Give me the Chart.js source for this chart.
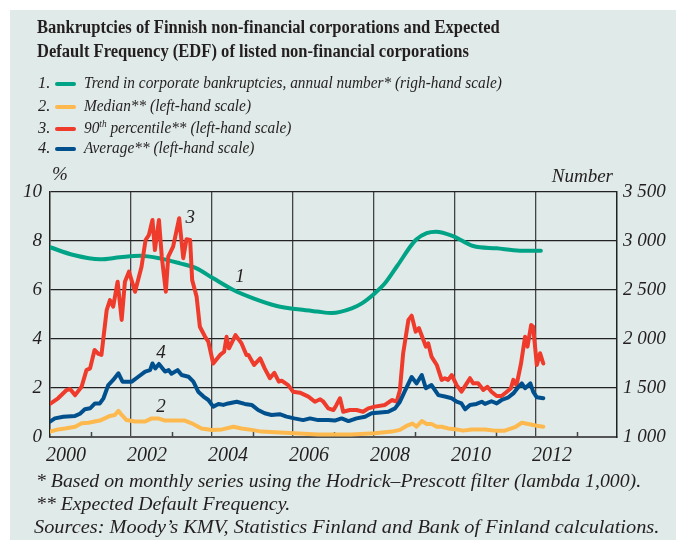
<!DOCTYPE html>
<html lang="en">
<head>
<meta charset="UTF-8">
<title>Bankruptcies and EDF</title>
<script src="https://cdn.jsdelivr.net/npm/chart.js@4.4.1/dist/chart.umd.min.js"></script>
<style>
    body { margin: 0; background: #fff; width: 676px; height: 540px; overflow: hidden; }
    #panel { position: absolute; left: 10px; top: 10px; width: 666px; height: 530px; background: #e0eae8; }
    #chart { position: absolute; left: 0; top: 0; }
    .txt { position: absolute; font-family: "Liberation Serif", serif; color: #231f20; white-space: nowrap; transform-origin: 0 50%; }
    #title { left: 37px; top: 15px; font-weight: bold; font-size: 18.5px; line-height: 24px; transform: scaleX(0.895); }
    .leg { left: 38px; font-style: italic; font-size: 16.5px; line-height: 20px; }
    .leg .sw { position: absolute; left: 17px; top: 9px; width: 21px; height: 4px; border-radius: 2px; }
    .leg .lab { position: absolute; left: 46px; top: 0; transform: scaleX(0.93); transform-origin: 0 50%; }
    .foot { left: 36px; font-style: italic; font-size: 18.5px; line-height: 22px; transform: scaleX(1.07); }
    sup { font-size: 10px; line-height: 0; }
</style>
</head>
<body>
<div id="panel"></div>
<canvas id="chart" width="676" height="540"></canvas>

<div id="title" class="txt">Bankruptcies of Finnish non-financial corporations and Expected<br>Default Frequency (EDF) of listed non-financial corporations</div>
<div class="txt leg" style="top:73px">1.<span class="sw" style="background:#00a385"></span><span class="lab">Trend in corporate bankruptcies, annual number* (righ-hand scale)</span></div>
<div class="txt leg" style="top:96px">2.<span class="sw" style="background:#fdb94e"></span><span class="lab">Median** (left-hand scale)</span></div>
<div class="txt leg" style="top:118px">3.<span class="sw" style="background:#ef3b2c"></span><span class="lab">90<sup>th</sup> percentile** (left-hand scale)</span></div>
<div class="txt leg" style="top:138px">4.<span class="sw" style="background:#00508e"></span><span class="lab">Average** (left-hand scale)</span></div>
<div class="txt foot" style="top:470px">* Based on monthly series using the Hodrick–Prescott filter (lambda 1,000).</div>
<div class="txt foot" style="top:493px">** Expected Default Frequency.</div>
<div class="txt foot" style="top:516px; left:34px; transform: scaleX(1.1)">Sources: Moody’s KMV, Statistics Finland and Bank of Finland calculations.</div>

<script>
    // trend in corporate bankruptcies (right-hand scale, number per year)
    const trendYears = [2000.00, 2000.58, 2001.23, 2001.73, 2002.22, 2002.72, 2003.21, 2003.62, 2004.03, 2004.53,
        2005.02, 2005.60, 2006.17, 2006.60, 2006.96, 2007.45, 2007.70, 2008.00, 2008.27, 2008.58,
        2009.03, 2009.30, 2009.53, 2009.95, 2010.45, 2011.03, 2011.60, 2012.12];
    const trendValues = [2936, 2857, 2813, 2834, 2850, 2823, 2772, 2721, 2619, 2500,
        2415, 2337, 2300, 2280, 2265, 2313, 2364, 2460, 2568, 2750,
        3010, 3080, 3095, 3051, 2949, 2925, 2901, 2901];

    // median EDF, %
    const medianYears = [2000.00, 2000.20, 2000.37, 2000.62, 2000.78, 2000.95, 2001.10, 2001.23, 2001.35, 2001.48,
        2001.60, 2001.69, 2001.77, 2001.89, 2002.10, 2002.35, 2002.51, 2002.67, 2002.84, 2003.03,
        2003.33, 2003.50, 2003.74, 2004.00, 2004.25, 2004.53, 2004.73, 2004.98, 2005.22, 2005.56,
        2006.03, 2006.62, 2007.44, 2008.02, 2008.44, 2008.64, 2008.80, 2008.95, 2009.05, 2009.18,
        2009.30, 2009.42, 2009.55, 2009.67, 2009.83, 2010.04, 2010.20, 2010.41, 2010.74, 2010.98,
        2011.23, 2011.48, 2011.65, 2011.81, 2012.02, 2012.18];
    const medianValues = [0.22, 0.31, 0.35, 0.42, 0.56, 0.58, 0.63, 0.67, 0.76, 0.86,
        0.90, 1.07, 0.90, 0.69, 0.63, 0.63, 0.76, 0.76, 0.67, 0.67,
        0.67, 0.56, 0.35, 0.29, 0.31, 0.42, 0.35, 0.29, 0.22, 0.19,
        0.15, 0.10, 0.10, 0.15, 0.22, 0.29, 0.45, 0.55, 0.42, 0.65,
        0.53, 0.53, 0.42, 0.42, 0.35, 0.31, 0.26, 0.31, 0.31, 0.26,
        0.26, 0.40, 0.58, 0.53, 0.46, 0.42];

    // 90th percentile EDF, %
    const p90Years = [2000.00, 2000.20, 2000.41, 2000.50, 2000.62, 2000.78, 2000.90, 2000.99, 2001.10, 2001.20,
        2001.27, 2001.40, 2001.48, 2001.56, 2001.67, 2001.77, 2001.85, 2001.95, 2002.10, 2002.26,
        2002.36, 2002.44, 2002.53, 2002.59, 2002.69, 2002.76, 2002.86, 2002.92, 2003.04, 2003.19,
        2003.29, 2003.37, 2003.46, 2003.51, 2003.62, 2003.70, 2003.83, 2003.91, 2004.03, 2004.20,
        2004.30, 2004.36, 2004.42, 2004.58, 2004.73, 2004.85, 2004.90, 2005.04, 2005.19, 2005.30,
        2005.43, 2005.54, 2005.65, 2005.72, 2005.88, 2006.00, 2006.17, 2006.38, 2006.54, 2006.67,
        2006.75, 2006.87, 2007.00, 2007.07, 2007.16, 2007.24, 2007.40, 2007.57, 2007.73, 2007.86,
        2008.02, 2008.27, 2008.44, 2008.56, 2008.64, 2008.72, 2008.85, 2008.93, 2009.03, 2009.11,
        2009.22, 2009.28, 2009.34, 2009.42, 2009.55, 2009.67, 2009.75, 2009.83, 2009.92, 2010.04,
        2010.16, 2010.29, 2010.37, 2010.45, 2010.57, 2010.70, 2010.80, 2010.90, 2011.03, 2011.15,
        2011.28, 2011.38, 2011.44, 2011.52, 2011.63, 2011.73, 2011.79, 2011.88, 2011.93, 2012.02,
        2012.10, 2012.18];
    const p90Values = [1.35, 1.58, 1.92, 1.95, 1.71, 2.05, 2.73, 2.80, 3.55, 3.39,
        3.35, 5.18, 5.59, 5.32, 6.34, 4.78, 6.34, 6.75, 5.93, 6.95,
        8.04, 8.24, 8.86, 7.63, 8.86, 7.36, 5.93, 7.36, 7.77, 8.93,
        7.30, 8.07, 8.04, 6.41, 5.73, 4.50, 4.09, 3.89, 3.00, 3.35,
        3.48, 4.09, 3.62, 4.16, 3.82, 3.35, 3.35, 2.94, 3.21, 2.80,
        2.40, 2.62, 2.26, 2.30, 2.12, 1.85, 1.81, 1.65, 1.44, 1.54,
        1.44, 1.17, 1.10, 1.30, 1.58, 1.03, 1.10, 1.10, 1.03, 1.17,
        1.24, 1.31, 1.51, 1.44, 1.92, 3.42, 4.78, 4.95, 4.30, 4.44,
        3.96, 3.69, 3.82, 3.28, 2.94, 2.33, 2.40, 2.33, 2.53, 2.12,
        1.85, 2.19, 2.40, 2.19, 2.19, 1.92, 2.05, 1.85, 1.67, 1.67,
        1.85, 1.99, 2.33, 2.12, 3.00, 4.09, 3.69, 4.57, 4.50, 2.94,
        3.42, 3.00];

    // average EDF, %
    const avgYears = [2000.00, 2000.12, 2000.33, 2000.62, 2000.74, 2000.86, 2000.99, 2001.11, 2001.23, 2001.32,
        2001.44, 2001.56, 2001.69, 2001.79, 2001.93, 2002.02, 2002.18, 2002.35, 2002.47, 2002.53,
        2002.60, 2002.69, 2002.84, 2002.93, 2003.00, 2003.15, 2003.25, 2003.42, 2003.54, 2003.66,
        2003.79, 2003.91, 2004.03, 2004.16, 2004.28, 2004.40, 2004.61, 2004.81, 2004.98, 2005.14,
        2005.30, 2005.47, 2005.67, 2005.84, 2006.03, 2006.25, 2006.42, 2006.62, 2006.87, 2007.03,
        2007.20, 2007.37, 2007.57, 2007.78, 2007.94, 2008.15, 2008.35, 2008.52, 2008.64, 2008.77,
        2008.93, 2009.05, 2009.18, 2009.28, 2009.42, 2009.59, 2009.75, 2009.92, 2010.04, 2010.16,
        2010.25, 2010.37, 2010.53, 2010.66, 2010.74, 2010.90, 2011.03, 2011.15, 2011.32, 2011.44,
        2011.57, 2011.65, 2011.73, 2011.86, 2011.93, 2012.02, 2012.18];
    const avgValues = [0.63, 0.76, 0.83, 0.86, 0.95, 1.13, 1.17, 1.37, 1.37, 1.58,
        2.12, 2.33, 2.60, 2.26, 2.26, 2.26, 2.46, 2.67, 2.73, 3.00,
        2.80, 2.98, 2.67, 2.73, 2.58, 2.73, 2.53, 2.46, 2.26, 1.85,
        1.65, 1.51, 1.24, 1.35, 1.31, 1.37, 1.44, 1.35, 1.31, 1.10,
        0.97, 0.90, 0.93, 0.83, 0.76, 0.69, 0.76, 0.69, 0.69, 0.67,
        0.76, 0.65, 0.76, 0.83, 0.97, 1.00, 1.03, 1.17, 1.44, 1.90,
        2.45, 2.19, 2.53, 1.99, 2.12, 1.71, 1.65, 1.58, 1.44, 1.37,
        1.13, 1.31, 1.35, 1.44, 1.35, 1.46, 1.37, 1.51, 1.62, 1.78,
        2.05, 2.19, 1.99, 2.19, 1.85, 1.62, 1.58];

    // numbers written next to the lines: [label, year, left-scale value]
    const lineTags = [['1', 2004.69, 6.53], ['2', 2002.74, 1.22], ['3', 2003.46, 8.94], ['4', 2002.74, 3.43]];

    const textColor = '#231f20';
    const serif = 'Liberation Serif';

    function pts(xs, ys) {
        return xs.map((x, i) => ({ x: x, y: ys[i] }));
    }

    const extras = {
        id: 'extras',
        beforeDatasetsDraw(chart) {
            // small tick marks for odd years, pointing up from the bottom axis
            const ctx = chart.ctx;
            const xs = chart.scales.x;
            const bottom = chart.chartArea.bottom;
            ctx.save();
            ctx.strokeStyle = '#444';
            ctx.lineWidth = 1.5;
            for (let yr = 2001; yr < 2014; yr += 2) {
                const px = Math.round(xs.getPixelForValue(yr)) + 0.5;
                ctx.beginPath();
                ctx.moveTo(px, bottom);
                ctx.lineTo(px, bottom - 5);
                ctx.stroke();
            }
            ctx.restore();
        },
        afterDatasetsDraw(chart) {
            const ctx = chart.ctx;
            const area = chart.chartArea;
            ctx.save();
            ctx.fillStyle = textColor;
            ctx.font = 'italic 19px "' + serif + '"';
            ctx.textBaseline = 'middle';
            ctx.textAlign = 'left';
            ctx.fillText('%', area.left + 2, area.top - 17);
            ctx.textAlign = 'right';
            ctx.fillText('Number', area.right - 4, area.top - 15);
            ctx.textAlign = 'center';
            lineTags.forEach(t => {
                ctx.fillText(t[0], chart.scales.x.getPixelForValue(t[1]), chart.scales.y.getPixelForValue(t[2]));
            });
            ctx.restore();
        }
    };

    const tickFont = { family: serif, size: 19, style: 'italic' };

    new Chart(document.getElementById('chart'), {
        type: 'line',
        data: {
            datasets: [
                { label: 'Average', data: pts(avgYears, avgValues), borderColor: '#00508e', yAxisID: 'y' },
                { label: '90th percentile', data: pts(p90Years, p90Values), borderColor: '#ef3b2c', yAxisID: 'y' },
                { label: 'Median', data: pts(medianYears, medianValues), borderColor: '#fdb94e', yAxisID: 'y' },
                { label: 'Trend in corporate bankruptcies', data: pts(trendYears, trendValues), borderColor: '#00a385',
                  yAxisID: 'y2', cubicInterpolationMode: 'monotone' }
            ]
        },
        options: {
            responsive: false,
            animation: false,
            devicePixelRatio: 1,
            layout: { padding: { left: 0, right: 0, top: 192, bottom: 0 } },
            elements: {
                point: { radius: 0 },
                line: { borderWidth: 4, tension: 0, borderJoinStyle: 'round', borderCapStyle: 'round' }
            },
            plugins: { legend: { display: false }, tooltip: { enabled: false }, title: { display: false } },
            scales: {
                x: {
                    type: 'linear',
                    min: 2000,
                    max: 2014,
                    afterFit: s => { s.height = 103; },
                    ticks: {
                        stepSize: 1,
                        autoSkip: false,
                        maxRotation: 0,
                        padding: 7,
                        labelOffset: 16,
                        color: textColor,
                        font: { family: serif, size: 20, style: 'italic' },
                        callback: v => (v % 2 === 0 && v < 2014) ? String(v) : ''
                    },
                    grid: {
                        drawTicks: false,
                        lineWidth: 1.3,
                        color: c => (c.tick && c.tick.value % 2 === 0 && c.tick.value > 2000 && c.tick.value < 2014) ? '#444' : 'rgba(0,0,0,0)'
                    },
                    border: { display: true, color: '#555', width: 2 }
                },
                y: {
                    position: 'left',
                    min: 0,
                    max: 10,
                    afterFit: s => { s.width = 50; },
                    ticks: { stepSize: 2, padding: 8, color: textColor, font: tickFont },
                    grid: {
                        drawTicks: false,
                        lineWidth: 1.3,
                        color: c => (c.tick && c.tick.value === 0) ? 'rgba(0,0,0,0)' : '#222'
                    },
                    border: { display: true, color: '#222', width: 1.5 }
                },
                y2: {
                    position: 'right',
                    min: 1000,
                    max: 3500,
                    afterFit: s => { s.width = 59; },
                    ticks: {
                        stepSize: 500,
                        padding: 6,
                        color: textColor,
                        font: tickFont,
                        callback: v => String(v).replace(/(\d)(\d{3})$/, '$1 $2')
                    },
                    grid: { drawOnChartArea: false, drawTicks: false },
                    border: { display: true, color: '#222', width: 1.5 }
                }
            }
        },
        plugins: [extras]
    });
</script>
</body>
</html>
